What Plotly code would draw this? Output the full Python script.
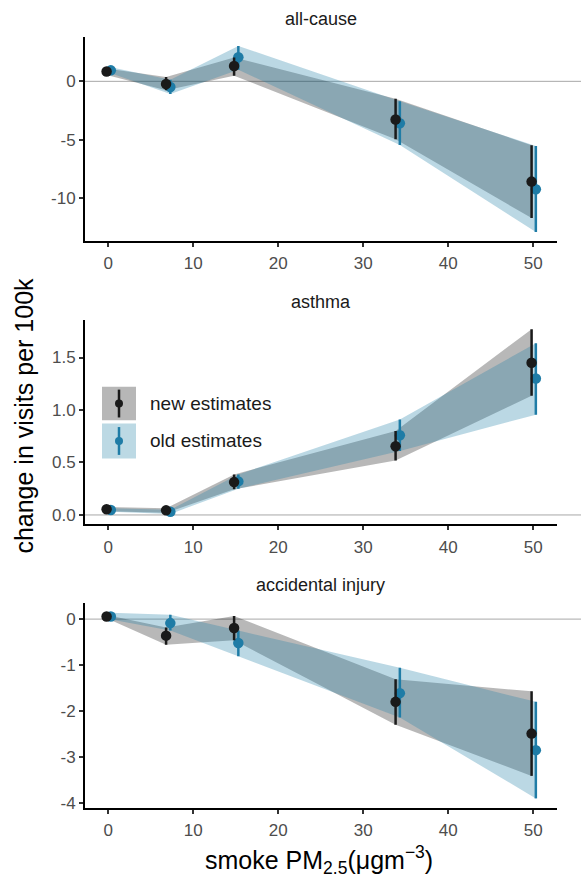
import plotly.graph_objects as go

W, H = 581, 879

# ---------------- data ----------------
smoke_pm = [0.05, 7.05, 15.05, 34.05, 50.05]
dodge = 0.25

panels = ["all-cause", "asthma", "accidental injury"]

allcause_new_est = [0.85, -0.23, 1.31, -3.27, -8.60]
allcause_new_lo = [0.55, -0.77, 0.48, -4.97, -11.73]
allcause_new_hi = [1.10, 0.37, 2.05, -1.50, -5.48]
allcause_old_est = [0.94, -0.48, 2.07, -3.60, -9.26]
allcause_old_lo = [0.70, -1.08, 1.00, -5.45, -12.93]
allcause_old_hi = [1.20, 0.14, 3.04, -1.70, -5.54]

asthma_new_est = [0.054, 0.044, 0.313, 0.655, 1.45]
asthma_new_lo = [0.035, 0.020, 0.244, 0.520, 1.136]
asthma_new_hi = [0.075, 0.065, 0.386, 0.800, 1.770]
asthma_old_est = [0.047, 0.030, 0.320, 0.760, 1.300]
asthma_old_lo = [0.030, 0.010, 0.250, 0.610, 0.956]
asthma_old_hi = [0.065, 0.050, 0.386, 0.910, 1.636]

injury_new_est = [0.058, -0.36, -0.195, -1.80, -2.49]
injury_new_lo = [0.020, -0.56, -0.46, -2.30, -3.41]
injury_new_hi = [0.090, -0.18, 0.07, -1.31, -1.57]
injury_old_est = [0.058, -0.087, -0.52, -1.61, -2.85]
injury_old_lo = [-0.010, -0.25, -0.81, -2.14, -3.90]
injury_old_hi = [0.140, 0.094, -0.25, -1.06, -1.80]

x_ticks = [0, 10, 20, 30, 40, 50]
y_ticks = [[-10, -5, 0], [0.0, 0.5, 1.0, 1.5], [-4, -3, -2, -1, 0]]
y_ticktext = [["-10", "-5", "0"], ["0.0", "0.5", "1.0", "1.5"], ["-4", "-3", "-2", "-1", "0"]]
y_ranges = [[-13.66, 3.82], [-0.089, 1.859], [-4.11, 0.345]]
x_range = [-2.74, 52.79]

series_labels = ["new estimates", "old estimates"]

data = [
    [(allcause_new_est, allcause_new_lo, allcause_new_hi), (allcause_old_est, allcause_old_lo, allcause_old_hi)],
    [(asthma_new_est, asthma_new_lo, asthma_new_hi), (asthma_old_est, asthma_old_lo, asthma_old_hi)],
    [(injury_new_est, injury_new_lo, injury_new_hi), (injury_old_est, injury_old_lo, injury_old_hi)],
]

# ---------------- style ----------------
FONT = "Liberation Sans, Arial, sans-serif"
BLACK = "#1a1a1a"
BLUE = "#1f7ca6"
FILLS = ["rgba(0,0,0,0.28)", "rgba(36,130,168,0.31)"]
PT_COLORS = [BLACK, BLUE]
OFFSETS = [-dodge, dodge]


def px(x):
    return x / W


def py(y):
    return 1 - y / H


x_dom = [px(85), px(557)]
y_doms = [[py(242), py(37)], [py(527.3), py(321.7)], [py(812.7), py(606.7)]]

fig = go.Figure()

for i in range(3):
    xa = "x" if i == 0 else f"x{i+1}"
    ya = "y" if i == 0 else f"y{i+1}"
    # ribbons
    for s in range(2):
        est, lo, hi = data[i][s]
        xs = [v + OFFSETS[s] for v in smoke_pm]
        fig.add_trace(go.Scatter(
            x=xs + xs[::-1], y=hi + lo[::-1], fill="toself", mode="lines",
            line=dict(width=0), fillcolor=FILLS[s], hoverinfo="skip",
            showlegend=False, xaxis=xa, yaxis=ya))
    # points (old first so new sits on top)
    for s in [1, 0]:
        est, lo, hi = data[i][s]
        xs = [v + OFFSETS[s] for v in smoke_pm]
        fig.add_trace(go.Scatter(
            x=xs, y=est, mode="markers",
            marker=dict(size=10.5, color=PT_COLORS[s]),
            error_y=dict(type="data", symmetric=False,
                         array=[h - e for h, e in zip(hi, est)],
                         arrayminus=[e - l for e, l in zip(est, lo)],
                         color=PT_COLORS[s], thickness=2.5, width=0),
            name=series_labels[s], showlegend=False, xaxis=xa, yaxis=ya))

axis_common = dict(showline=True, linecolor="black", linewidth=2, ticks="outside",
                   ticklen=4, tickwidth=2, tickcolor="#333333", showgrid=False,
                   zeroline=False, tickfont=dict(family=FONT, size=17, color="#4d4d4d"))

layout = dict(width=W, height=H, margin=dict(l=0, r=0, t=0, b=0),
              plot_bgcolor="white", paper_bgcolor="white", showlegend=False,
              font=dict(family=FONT))
shapes = []
annotations = []
for i in range(3):
    xk = "xaxis" if i == 0 else f"xaxis{i+1}"
    yk = "yaxis" if i == 0 else f"yaxis{i+1}"
    yref = "y" if i == 0 else f"y{i+1}"
    xref = "x" if i == 0 else f"x{i+1}"
    layout[xk] = dict(domain=x_dom, range=x_range, tickvals=x_ticks,
                      anchor=yref, ticklabelstandoff=2, **axis_common)
    layout[yk] = dict(domain=y_doms[i], range=y_ranges[i], tickvals=y_ticks[i],
                      ticktext=y_ticktext[i], anchor=xref, **axis_common)
    # zero reference line
    shapes.append(dict(type="line", xref="paper", yref=yref, x0=x_dom[0], x1=1.0,
                       y0=0, y1=0, line=dict(color="#a8a8a8", width=1), layer="below"))
    # panel title
    annotations.append(dict(text=panels[i], xref="paper", yref="paper",
                            x=(x_dom[0] + x_dom[1]) / 2, y=y_doms[i][1] + 18 / H,
                            xanchor="center", yanchor="middle", showarrow=False,
                            font=dict(family=FONT, size=18, color=BLACK)))

# legend (manual, inside asthma panel)
key_boxes = [(389, 422.7, "#b7b7b7"), (426, 461, "#bcd9e4")]
for s, (y0, y1, fc) in enumerate(key_boxes):
    shapes.append(dict(type="rect", xref="paper", yref="paper", x0=px(102), x1=px(136),
                       y0=py(y1), y1=py(y0), fillcolor=fc, line=dict(width=0)))
    cy = (y0 + y1) / 2
    shapes.append(dict(type="line", xref="paper", yref="paper", x0=px(119), x1=px(119),
                       y0=py(cy + 14), y1=py(cy - 14),
                       line=dict(color=PT_COLORS[s], width=2.5)))
    shapes.append(dict(type="circle", xref="paper", yref="paper", x0=px(115), x1=px(123),
                       y0=py(cy + 4), y1=py(cy - 4), fillcolor=PT_COLORS[s],
                       line=dict(width=0)))
    annotations.append(dict(text=series_labels[s], xref="paper", yref="paper",
                            x=px(148), y=py(cy), xanchor="left", yanchor="middle",
                            showarrow=False, font=dict(family=FONT, size=19, color=BLACK)))

annotations.append(dict(text="change in visits per 100k", xref="paper", yref="paper",
                        x=px(24), y=py(418), xanchor="center", yanchor="middle",
                        textangle=-90, showarrow=False,
                        font=dict(family=FONT, size=25, color="black")))
annotations.append(dict(text="smoke PM<sub>2.5</sub>(\u03bcgm<sup>\u22123</sup>)",
                        xref="paper", yref="paper", x=px(319), y=py(865),
                        xanchor="center", yanchor="middle", showarrow=False,
                        font=dict(family=FONT, size=25, color="black")))

layout["shapes"] = shapes
layout["annotations"] = annotations
fig.update_layout(**layout)
fig.write_html("out.html")
